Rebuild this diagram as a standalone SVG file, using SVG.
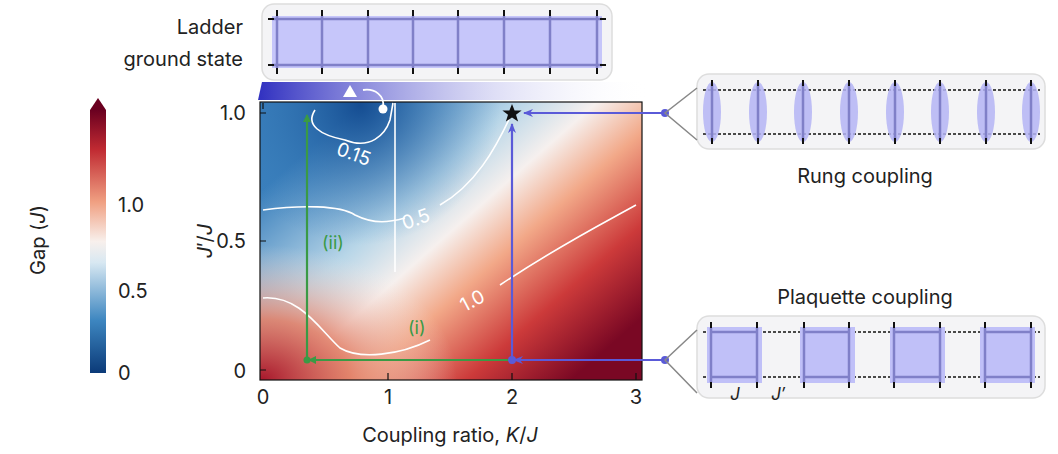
<svg xmlns="http://www.w3.org/2000/svg" width="1058" height="454" viewBox="0 0 1058 454">
<style>
text{font-family:"Inter","Liberation Sans",sans-serif;fill:#222}
.t{font-size:20px}
.g{stroke:#3a9a45;stroke-width:2.2;fill:none}
.b{stroke:#5a5ad8;stroke-width:2.2;fill:none}
.c{stroke:#fff;stroke-width:1.6;fill:none}
.box{fill:#f4f4f6;stroke:#ddd;stroke-width:1.5}
.lad{stroke:#8080c8;stroke-width:2.5}
.tk{stroke:#111;stroke-width:2}
.dash{stroke:#111;stroke-width:1.5;stroke-dasharray:3 2}
</style>
<defs>
<linearGradient id="cb" x1="0" y1="1" x2="0" y2="0">
<stop offset="0" stop-color="#0b3a78"/><stop offset="0.2" stop-color="#3d86c0"/><stop offset="0.42" stop-color="#d8e8f2"/><stop offset="0.5" stop-color="#f8f0ec"/><stop offset="0.65" stop-color="#f0a082"/><stop offset="0.85" stop-color="#c02a32"/><stop offset="1" stop-color="#6a0020"/>
</linearGradient>
<linearGradient id="bg" gradientUnits="userSpaceOnUse" x1="330" y1="130" x2="560" y2="390">
<stop offset="0" stop-color="#3a7fbc"/><stop offset="0.3" stop-color="#b8d6e8"/><stop offset="0.45" stop-color="#f6f0ee"/><stop offset="0.6" stop-color="#f2a888"/><stop offset="0.8" stop-color="#cc3a3a"/><stop offset="1" stop-color="#7a0824"/>
</linearGradient>
<radialGradient id="bl" gradientUnits="userSpaceOnUse" cx="262" cy="380" r="150" gradientTransform="translate(262 380) scale(1.3 0.9) translate(-262 -380)">
<stop offset="0" stop-color="#a8182c"/><stop offset="0.45" stop-color="#e07a62" stop-opacity="0.85"/><stop offset="1" stop-color="#f6e6e0" stop-opacity="0"/>
</radialGradient>
<radialGradient id="tl" gradientUnits="userSpaceOnUse" cx="360" cy="105" r="140">
<stop offset="0" stop-color="#154d92"/><stop offset="1" stop-color="#3a80bc" stop-opacity="0"/>
</radialGradient>
<linearGradient id="wedge" x1="0" y1="0" x2="1" y2="0">
<stop offset="0" stop-color="#3030c0"/><stop offset="0.6" stop-color="#c8c8f0" stop-opacity="0.6"/><stop offset="1" stop-color="#fff" stop-opacity="0"/>
</linearGradient>
<marker id="ag" markerWidth="8" markerHeight="8" refX="7" refY="4" orient="auto" markerUnits="userSpaceOnUse" viewBox="0 0 8 8"><path d="M0,0L8,4L0,8z" fill="#3a9a45"/></marker>
<marker id="ab" markerWidth="10" markerHeight="10" refX="9" refY="5" orient="auto" markerUnits="userSpaceOnUse" viewBox="0 0 10 10"><path d="M0,1L10,5L0,9L3,5z" fill="#5a5ad8"/></marker>
</defs>

<g id="colorbar">
<rect x="90" y="110" width="16" height="263" fill="url(#cb)"/>
<path d="M90,110L98,98L106,110z" fill="#6a0020"/>
<text class="t" x="118" y="380">0</text>
<text class="t" x="118" y="298">0.5</text>
<text class="t" x="118" y="212">1.0</text>
<text class="t" transform="translate(45,240) rotate(-90)" text-anchor="middle">Gap (<tspan font-style="italic">J</tspan>)</text>
</g>

<g id="heatmap">
<rect x="260" y="102" width="382" height="278" fill="url(#bg)"/>
<rect x="260" y="102" width="382" height="278" fill="url(#tl)"/>
<rect x="260" y="102" width="382" height="278" fill="url(#bl)"/>
<rect x="260" y="102" width="382" height="278" fill="none" stroke="#111" stroke-width="1.2"/>
<path class="c" d="M395,103V272"/>
<path class="c" d="M263,210C300,205 340,205 355,215C375,225 390,222 405,218"/>
<path class="c" d="M440,205C475,185 495,150 512,113"/>
<path class="c" d="M263,298C300,295 320,330 340,348C360,360 400,355 430,340"/>
<path class="c" d="M500,285C560,245 600,225 636,205"/>
<path class="c" d="M315,110C305,125 320,135 345,140C370,150 385,135 390,120L393,103"/>
<text x="334" y="158" font-size="19" style="fill:#fff" transform="rotate(20 345 160)">0.15</text>
<text x="402" y="226" font-size="19" style="fill:#fff" transform="rotate(-20 415 220)">0.5</text>
<text x="460" y="306" font-size="19" style="fill:#fff" transform="rotate(-28 475 300)">1.0</text>
<path d="M263,103v6M388,373v7M512,373v7M636,373v7M260,113h6M260,241h6M260,370h6" stroke="#111" stroke-width="1.2"/>
<text class="t" x="263" y="404" text-anchor="middle">0</text>
<text class="t" x="388" y="404" text-anchor="middle">1</text>
<text class="t" x="512" y="404" text-anchor="middle">2</text>
<text class="t" x="636" y="404" text-anchor="middle">3</text>
<text class="t" x="246" y="120" text-anchor="end">1.0</text>
<text class="t" x="246" y="248" text-anchor="end">0.5</text>
<text class="t" x="246" y="378" text-anchor="end">0</text>
<text class="t" transform="translate(212,241) rotate(-90)" text-anchor="middle"><tspan font-style="italic">J</tspan>′/<tspan font-style="italic">J</tspan></text>
<text class="t" x="450" y="442" text-anchor="middle">Coupling ratio, <tspan font-style="italic">K</tspan>/<tspan font-style="italic">J</tspan></text>
<path d="M512,104l2.6,6.5h7l-5.6,4.3 2.1,6.8-6.1-4.1-6.1,4.1 2.1-6.8-5.6-4.3h7z" fill="#111"/>
</g>

<g id="ladder-ground">
<path d="M262,82L258,100H650V82z" fill="url(#wedge)"/>
<rect class="box" x="262" y="4" width="350" height="76" rx="12"/>
<rect x="272" y="16" width="330" height="52" fill="#c6c6fa"/>
<path class="lad" d="M272,19H602M272,65H602M277,16v52M322,16v52M368,16v52M413,16v52M458,16v52M504,16v52M550,16v52M597,16v52"/>
<path class="tk" d="M277,10v6M322,10v6M368,10v6M413,10v6M458,10v6M504,10v6M550,10v6M597,10v6M277,68v6M322,68v6M368,68v6M413,68v6M458,68v6M504,68v6M550,68v6M597,68v6M268,19h6M600,19h6M268,65h6M600,65h6"/>
<text class="t" x="243" y="34" text-anchor="end">Ladder</text>
<text class="t" x="243" y="66" text-anchor="end">ground state</text>
<path d="M343,97L350,85L357,97z" fill="#fff"/>
<path d="M363,90C375,88 385,96 383,107" stroke="#fff" stroke-width="1.8" fill="none"/>
<circle cx="383" cy="109" r="4.5" fill="#fff"/>
</g>

<g id="rung">
<rect class="box" x="697" y="74" width="348" height="75" rx="12"/>
<path class="dash" d="M703,90H1040M703,134H1040"/>
<g fill="#b4b4f4" fill-opacity="0.85">
<ellipse cx="712" cy="112" rx="9" ry="30"/><ellipse cx="758" cy="112" rx="9" ry="30"/><ellipse cx="803" cy="112" rx="9" ry="30"/><ellipse cx="849" cy="112" rx="9" ry="30"/><ellipse cx="895" cy="112" rx="9" ry="30"/><ellipse cx="940" cy="112" rx="9" ry="30"/><ellipse cx="986" cy="112" rx="9" ry="30"/><ellipse cx="1031" cy="112" rx="9" ry="30"/>
</g>
<path class="lad" d="M712,84v56M758,84v56M803,84v56M849,84v56M895,84v56M940,84v56M986,84v56M1031,84v56"/>
<path class="tk" d="M712,80v6M758,80v6M803,80v6M849,80v6M895,80v6M940,80v6M986,80v6M1031,80v6M712,138v6M758,138v6M803,138v6M849,138v6M895,138v6M940,138v6M986,138v6M1031,138v6"/>
<text class="t" x="865" y="183" text-anchor="middle">Rung coupling</text>
</g>

<g id="plaquette">
<rect class="box" x="697" y="316" width="348" height="82" rx="12"/>
<path class="dash" d="M703,332H1040M703,377H1040"/>
<g fill="#c0c0f8"><rect x="707" y="327" width="55" height="56"/><rect x="800" y="327" width="55" height="56"/><rect x="890" y="327" width="55" height="56"/><rect x="980" y="327" width="55" height="56"/></g>
<path class="lad" d="M711,332h46M711,377h46M711,328v54M757,328v54M804,332h45M804,377h45M804,328v54M849,328v54M894,332h46M894,377h46M894,328v54M940,328v54M985,332h46M985,377h46M985,328v54M1031,328v54"/>
<path class="tk" d="M711,322v6M757,322v6M804,322v6M849,322v6M894,322v6M940,322v6M985,322v6M1031,322v6M711,382v6M757,382v6M804,382v6M849,382v6M894,382v6M940,382v6M985,382v6M1031,382v6"/>
<text class="t" x="865" y="304" text-anchor="middle">Plaquette coupling</text>
<text x="735" y="400" font-size="17" font-style="italic" text-anchor="middle">J</text>
<text x="778" y="400" font-size="17" font-style="italic" text-anchor="middle">J′</text>
</g>

<g id="connectors">
<path class="g" d="M307,360V115" marker-end="url(#ag)"/>
<path class="g" d="M512,360H309" marker-end="url(#ag)"/>
<circle cx="307" cy="360" r="3.5" fill="#3a9a45"/>
<text x="322" y="249" font-size="18" style="fill:#3a9a45">(ii)</text>
<text x="408" y="334" font-size="18" style="fill:#3a9a45">(i)</text>
<path class="b" d="M512,360V124" marker-end="url(#ab)"/>
<path class="b" d="M665,360H514" marker-end="url(#ab)"/>
<path class="b" d="M665,113H524" marker-end="url(#ab)"/>
<circle cx="512" cy="360" r="4" fill="#5a5ad8"/>
<circle cx="665" cy="360" r="4" fill="#5a5ad8"/>
<circle cx="665" cy="113" r="4" fill="#5a5ad8"/>
<path d="M697,88L665,113L697,140M697,330L665,360L697,393" stroke="#888" stroke-width="1.5" fill="none"/>
</g>
</svg>
